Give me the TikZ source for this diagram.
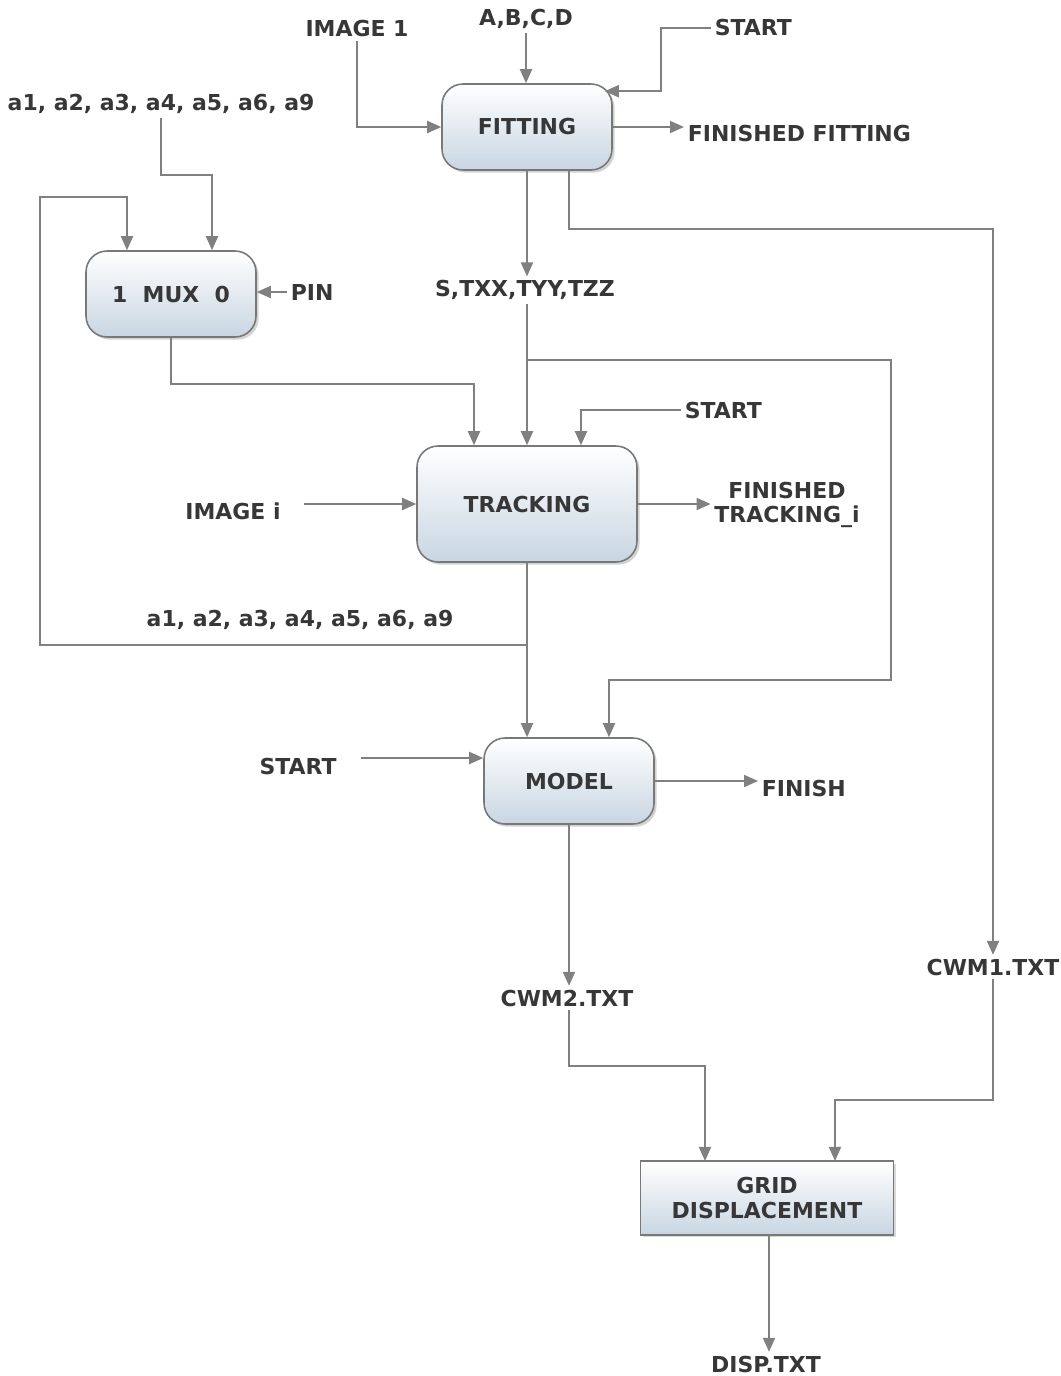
\documentclass[tikz,border=0pt]{standalone}
\usepackage{fontspec}
\setmainfont{DejaVu Sans}
\usetikzlibrary{arrows.meta,calc,shadows}
\definecolor{linec}{RGB}{128,128,128}
\definecolor{txtc}{RGB}{55,55,55}
\definecolor{boxbot}{RGB}{200,214,226}
\definecolor{boxedge}{RGB}{120,120,120}
\begin{document}
\begin{tikzpicture}[x=0.02cm,y=-0.02cm,
  every node/.style={font=\bfseries\fontsize{12.5}{14}\selectfont, text=txtc, inner sep=2pt},
  lbl/.style={},
  procbox/.style={draw=boxedge, line width=0.9pt, rounded corners=0.42cm,
    top color=white, bottom color=boxbot, minimum width=3.4cm, minimum height=1.72cm,
    drop shadow={opacity=0.35, shadow xshift=1.5pt, shadow yshift=-1.5pt}},
  arr/.style={draw=linec, line width=1.1pt, -{Triangle[length=0.28cm,width=0.24cm]}, color=linec},
  ln/.style={draw=linec, line width=1.1pt}]
\useasboundingbox (0,0) rectangle (1061,1376);

% boxes
\node[procbox] (fit) at (527,127) {FITTING};
\node[procbox] (mux) at (171,294) {1\ \ MUX\ \ 0};
\node[procbox, minimum width=4.4cm, minimum height=2.32cm] (trk) at (527,504) {TRACKING};
\node[procbox] (mod) at (569,781) {MODEL};
\node[draw=boxedge, line width=0.6pt, top color=white, bottom color=boxbot,
      minimum width=5.06cm, minimum height=1.46cm, align=center,
      drop shadow={opacity=0.3, shadow xshift=1.5pt, shadow yshift=-1.5pt}]
      (grid) at (767,1198) {GRID\\DISPLACEMENT};
\draw[boxedge, line width=1.6pt] (grid.north west) -- (grid.north east);
\draw[boxedge, line width=1.6pt] (grid.south west) -- (grid.south east);

% labels
\node[lbl] (img1) at (357,29) {IMAGE 1};
\node[lbl] (abcd) at (526,19) {A,B,C,D};
\node[lbl, anchor=west] (start1) at (711,28) {START};
\node[lbl, anchor=west] (finfit) at (684,134) {FINISHED FITTING};
\node[lbl] (a1top) at (161,104) {a1, a2, a3, a4, a5, a6, a9};
\node[lbl, anchor=west] (pin) at (287,292) {PIN};
\node[lbl] (stxx) at (525,290) {S,TXX,TYY,TZZ};
\node[lbl, anchor=west] (start2) at (681,410) {START};
\node[lbl] (imgi) at (233,511) {IMAGE i};
\node[lbl, align=center, font=\bfseries\fontsize{12.5}{13.5}\selectfont] (fintrk) at (787,505) {FINISHED\\TRACKING\_i};
\node[lbl] (a1bot) at (300,620) {a1, a2, a3, a4, a5, a6, a9};
\node[lbl] (start3) at (298,766) {START};
\node[lbl, anchor=west] (finish) at (758,788) {FINISH};
\node[lbl] (cwm2) at (567,998) {CWM2.TXT};
\node[lbl] (cwm1) at (993,967) {CWM1.TXT};
\node[lbl] (disp) at (766,1364) {DISP.TXT};

\coordinate (j1) at (527,645);
\coordinate (j2) at (527,360);
\coordinate (g1) at ($(grid.south)+(2,0)$);

% connectors
\draw[arr] (img1.south) |- (fit.west);
\draw[arr] (abcd.south) -- (abcd.south |- fit.north);
\draw[arr] (start1.west) -| ($(fit.north east)+(48,8)$) -- ($(fit.north east)+(-8,8)$);
\draw[arr] (fit.east) -- (fit.east -| finfit.west);
\draw[arr] (fit.south) -- (fit.south |- stxx.north);
\draw[arr] ($(fit.south)+(42,0)$) -- ++(0,58) -| (cwm1.north);
\draw[arr] (a1top.south) -- ++(0,57) -| ($(mux.north)+(41,0)$);
\draw[arr] (j1) -- (40,645) -- (40,197) -| ($(mux.north)+(-44,0)$);
\draw[arr] (pin.west) -- (pin.west -| mux.east);
\draw[arr] (mux.south) -- ++(0,46) -| ($(trk.north)+(-53,0)$);
\draw[arr] (stxx.south -| trk.north) -- (trk.north);
\draw[arr] (j2) -- (891,360) -- (891,680) -| ($(mod.north)+(40,0)$);
\draw[arr] (start2.west) -| ($(trk.north)+(54,0)$);
\draw[arr, shorten <=0.4cm] (imgi.east |- trk.west) -- (trk.west);
\draw[arr] (trk.east) -- (trk.east -| fintrk.west);
\draw[arr] (trk.south) -- (trk.south |- mod.north);
\draw[arr, shorten <=0.42cm] (start3.east |- 0,758) -- (mod.west |- 0,758);
\draw[arr] (mod.east) -- (mod.east -| finish.west);
\draw[arr] (mod.south) -- (mod.south |- cwm2.north);
\draw[arr] (cwm2.south -| mod.south) -- ++(0,56) -| ($(grid.north)+(-62,0)$);
\draw[arr] (cwm1.south) -- ++(0,121) -| ($(grid.north)+(68,0)$);
\draw[arr] (g1) -- (g1 |- disp.north);
\end{tikzpicture}
\end{document}
